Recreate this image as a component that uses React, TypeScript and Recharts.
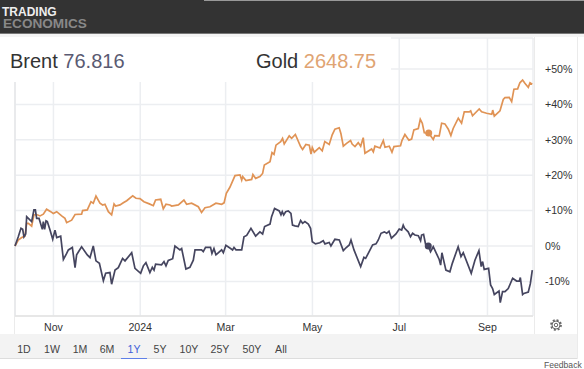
import { LineChart, Line, XAxis, YAxis, CartesianGrid, ReferenceLine, ReferenceDot } from "recharts";

// days since the start of the 1Y window, change in %
const brentDays = [
    0, 2.3, 4.2, 5.4, 6.3, 7.5, 8.2, 9.4, 11.7, 13.3, 14.3, 15.2, 16.9, 19.2, 19.9, 20.8, 21.8, 22.7, 24.6, 26.5,
    28.1, 29.3, 32.1, 34, 36.3, 37.5, 40.3, 42.2, 43.3, 46.8, 50.8, 52.7, 55, 56.9, 59.3, 62.1, 63.7, 66.7, 67.9, 70.3,
    72.6, 75.6, 77.3, 82, 84.3, 88.3, 90.2, 92, 94.8, 96.5, 97.7, 98.8, 103, 104.7, 106.1, 107.7, 110.8, 112.4, 115.9, 117.1,
    120.1, 122.9, 125.3, 126.5, 131.1, 132.3, 133.9, 137.4, 138.4, 139.8, 141.2, 145.2, 146.4, 148.2, 151.5, 152.9, 153.9, 155.3, 159.3, 160.9,
    162.8, 165.8, 169.1, 172.1, 174, 175.4, 179.2, 180.3, 182.4, 185.7, 186.9, 187.8, 188.8, 190.2, 192, 193.9, 195, 196.7, 199, 200.7,
    202.1, 203.7, 206.1, 207.7, 208.9, 211.2, 214.2, 216.6, 217.8, 220.8, 222, 224.8, 227.9, 230.7, 232.6, 234.9, 236.1, 238.2, 242.9, 245.2,
    246.4, 249.5, 251.3, 253.7, 255.3, 257.2, 259.5, 261.2, 262.8, 264.5, 267.7, 270, 271.7, 272.8, 273.8, 276.3, 277.9, 279.4, 281, 283.4,
    285, 285.7, 287.1, 288.5, 290.4, 292, 293.9, 298.1, 299.1, 300, 302.8, 305.6, 307.3, 311.4, 313.4, 315, 320.6, 323.2, 326, 327.6,
    328.6, 329.7, 332.8, 334.2, 335.6, 336.8, 340.1, 341, 342.6, 344.3, 346.6, 349.7, 352.5, 354.4, 355.1, 356.7, 357.6, 360.7, 362.1, 363.5,
];
const brentPct = [
    0, 2.6, 5, 4.7, 2.6, 3.4, 8.3, 7.8, 6.9, 10.2, 10.2, 7.8, 7.8, 4.7, 6.9, 4.7, 7.1, 6.9, 4.5, 1.9,
    4.5, 2.4, 2.8, -3.8, -2.1, -1.1, -0.4, -6.1, -2.5, -0.2, -2.5, -3.3, 0, -4.2, -4.9, -9.8, -7.7, -7.5, -10.8, -6.8,
    -6.1, -3.5, -4.2, -1.9, -6.3, -7.7, -5.6, -4.7, -7.5, -6, -6.8, -5.1, -5.3, -4.4, -5.6, -4.1, -3.6, 0, -1.1, -0.7,
    -6.5, -6, -4, -1.1, -1.1, -1.6, -0.4, -0.4, -2.1, -0.7, -2.5, -1.1, -1.9, 0.2, -0.7, -1.1, -0.4, -1.1, -1.1, 2.6,
    3, 5, 2.8, 4, 3.4, 5.5, 6.2, 8.3, 10.6, 9.9, 8.8, 9.7, 8.8, 9.7, 9.9, 9.2, 5.9, 5.7, 5.5, 7.2,
    6.4, 6.9, 6.2, 5, 1.2, 0.6, 0.9, 1.5, 0.6, 1, 0, 1.9, 1.7, -1.3, -0.5, 0.3, 1.7, -1.1, -5.8, -3.2,
    -3.5, -1.1, 0.3, 0.6, 1.7, 3.6, 4, 3.6, 4.2, 2.2, 3.4, 4.8, 4.5, 5.9, 5, 4, 2.6, 3.6, 3.1, 2.9,
    1.5, 3.1, 3.3, 0.5, 0, -1.6, -0.2, -3.8, -5.4, -1.9, -6.8, -7.3, -4.9, -0.2, -3, -1.9, -7.7, -4, -1.3, -5.8,
    -4.4, -6.6, -6.3, -11, -12, -13.7, -12.7, -16, -12.9, -12.9, -12, -9.1, -9.9, -9.9, -8.9, -13.7, -13.4, -13, -10.7, -6.8,
];
const goldDays = [
    0, 2.3, 4.7, 7, 8.2, 9.4, 11.7, 13.3, 15.2, 17.6, 19.9, 22.2, 25.1, 26.9, 29.3, 32.8, 35.1, 36.3, 39.8, 42.2,
    46.8, 47.5, 50.8, 53.4, 55, 56.9, 59.7, 61.6, 63.2, 65.6, 67.9, 69.6, 70.7, 73.8, 76.1, 78.5, 82.7, 85, 87.8, 90.6,
    94.4, 97.2, 98.8, 102.4, 104.2, 106.1, 108.9, 110.1, 114.8, 118.7, 120.6, 124.1, 128.8, 131.1, 133.5, 137, 141.2, 145.2, 146.9, 148.5,
    151, 154.6, 158.1, 159.3, 160, 162.3, 166.3, 167.2, 169.1, 172.1, 174, 175.2, 179.2, 180.6, 182, 183.4, 186.7, 188, 189.2, 192.7,
    194.4, 197, 200.7, 202.1, 204.4, 206.8, 208, 208.9, 210.3, 213.8, 215.9, 217.7, 220.8, 222.9, 224.8, 227.8, 229, 230.7, 233, 235.8,
    236.9, 238.9, 241.2, 242.9, 244.7, 245.9, 250.6, 251.8, 252.9, 256.5, 258.8, 260, 263, 264.9, 266.3, 270.9, 271.9, 274, 276.8, 278.7,
    280.3, 283.4, 284.8, 286.2, 287.6, 290.7, 293.9, 295, 298.1, 299.8, 302.1, 304.5, 306.3, 307.9, 311.5, 313.8, 315.7, 319.2, 320.2, 321.5,
    326.2, 327.9, 331.4, 335, 335.7, 336.8, 340.8, 343.1, 344.3, 347.3, 349, 350.6, 353.2, 354.8, 356.7, 358.3, 360.7, 361.9, 363.5,
];
const goldPct = [
    0, 1.7, 2.4, 2.8, 6.4, 6.4, 5.6, 8.8, 8.9, 8.5, 9, 10.4, 9.7, 9.2, 9.7, 8.5, 7.8, 6.6, 7.3, 8.9,
    9, 10, 10.2, 12.5, 12.1, 14.1, 12.1, 11.6, 11.8, 9.7, 8.8, 11.9, 11.3, 11.6, 12.2, 12.8, 14.2, 13.5, 13.4, 12.5,
    11.9, 11.4, 13, 13.2, 10.5, 11.8, 11.6, 11.3, 11.6, 13, 11.8, 12.1, 11.1, 9.5, 10.8, 11.1, 12.1, 11.8, 12.2, 14.9,
    16.6, 19.9, 20.1, 18.6, 19.6, 18.5, 18.8, 20.2, 19.1, 19.6, 20.5, 22.9, 23.8, 26.4, 25.9, 28.5, 29.5, 30.4, 28.8, 31.1,
    30.4, 31.5, 28.1, 27.3, 28.7, 28.5, 26, 27.8, 26.5, 27.8, 26.9, 29.5, 28.7, 31.4, 33, 33.4, 31.8, 28.2, 29, 29.8,
    28.8, 28.1, 29.2, 28.2, 30.6, 26.2, 27.4, 26.6, 28.2, 27.7, 29.8, 27.9, 28.2, 26.5, 28.1, 28.3, 29.8, 31.5, 29.9, 30.2,
    32.8, 33.2, 35.8, 34.7, 32, 31.9, 30.1, 31.2, 31.1, 34.7, 34.5, 33, 31.2, 33.2, 36.1, 34.7, 37.9, 37.9, 38.2, 36.8,
    38.7, 37.9, 37.5, 37.2, 38.4, 36.7, 38.2, 41.4, 41.9, 42, 40.8, 44.3, 44.4, 46.1, 46.9, 46, 44.8, 46.1, 45.7,
];

const xTicks = [27, 88, 148, 209, 270, 332];
const xLabels = ["Nov", "2024", "Mar", "May", "Jul", "Sep"];
const yTicks = [-10, 0, 10, 20, 30, 40, 50];
const ranges = ["1D", "1W", "1M", "6M", "1Y", "5Y", "10Y", "25Y", "50Y", "All"];
const rangeCenters = [24, 52, 80, 107, 134, 160, 189, 220, 252, 281];

const brentData = brentDays.map((day, i) => ({ day, pct: brentPct[i] }));
const goldData = goldDays.map((day, i) => ({ day, pct: goldPct[i] }));

const FONT = "'Liberation Sans', Arial, sans-serif";
const BRENT = "#45455f";
const GOLD = "#e09355";

const abs = (left: number, top: number, width: number, height: number, extra = {}) => ({
    position: "absolute" as const, left, top, width, height, ...extra,
});

function yLabel(v: number) {
    return v > 0 ? `+${v}%` : `${v}%`;
}

export default function App() {
    return (
        <div style={abs(0, 0, 584, 369, { background: "#fff", fontFamily: FONT, overflow: "hidden" })}>
            {/* header */}
            <div style={abs(0, 0, 584, 33, { background: "#333" })} />
            <div style={abs(204, 0, 380, 1, { background: "#999" })} />
            <div style={abs(0, 33, 584, 1, { background: "#777" })} />
            <div style={abs(0, 34, 584, 3, { background: "#f4f4f4" })} />
            <div style={{ position: "absolute", left: 2, top: 7, color: "#eee", fontWeight: "bold", fontSize: 12, lineHeight: "11px" }}>TRADING</div>
            <div style={{ position: "absolute", left: 3, top: 18, color: "#888", fontWeight: "bold", fontSize: 13.6, lineHeight: "11px" }}>ECONOMICS</div>

            {/* bottom bar, drawn under the chart */}
            <div style={abs(0, 334, 577, 25, { background: "#f3f3f3", borderBottom: "1px solid #ddd", boxSizing: "border-box" })} />
            <div style={abs(577, 37, 1, 322, { background: "#ebebeb" })} />
            <div style={abs(534, 37, 1, 297, { background: "#ebebeb" })} />
            <div style={abs(14, 316, 1, 18, { background: "#ebebeb" })} />

            <div style={{ position: "absolute", left: 0, top: 0 }}>
                <LineChart width={584} height={369} margin={{ top: 38, right: 0, bottom: 0, left: 15 }}>
                    <CartesianGrid stroke="#eceef1" strokeWidth={1.5} />
                    <XAxis
                        dataKey="day"
                        type="number"
                        domain={[0, 364]}
                        ticks={xTicks}
                        interval={0}
                        height={53}
                        allowDuplicatedCategory={false}
                        tickLine={false}
                        tickMargin={1}
                        axisLine={{ stroke: "#e3e3e3", strokeWidth: 1.5 }}
                        tick={{ fill: "#333", fontSize: 10.6, fontFamily: FONT }}
                        tickFormatter={(v: number) => xLabels[xTicks.indexOf(v)]}
                    />
                    <YAxis
                        dataKey="pct"
                        orientation="right"
                        width={51}
                        domain={[-19.77, 58.76]}
                        ticks={yTicks}
                        interval={0}
                        tickLine={false}
                        axisLine={false}
                        tickMargin={6}
                        tick={{ fill: "#333", fontSize: 10.6, fontFamily: FONT, textAnchor: "start" }}
                        tickFormatter={yLabel}
                    />
                    <ReferenceLine x={0} stroke="#e6e7ea" strokeWidth={1.5} />
                    <Line data={goldData} dataKey="pct" name="Gold" stroke={GOLD} strokeWidth={1.7} dot={false} isAnimationActive={false} />
                    <Line data={brentData} dataKey="pct" name="Brent" stroke={BRENT} strokeWidth={1.7} dot={false} isAnimationActive={false} />
                    <ReferenceDot x={290.7} y={31.9} r={3.5} fill={GOLD} stroke="none" />
                    <ReferenceDot x={290.4} y={0} r={3.5} fill={BRENT} stroke="none" />
                </LineChart>
            </div>

            {/* legend box sits on top of the grid */}
            <div style={abs(8, 37, 383, 45, { background: "#fff" })} />
            <div style={{ position: "absolute", left: 10, top: 50, fontSize: 20, lineHeight: "23px", color: "#333", whiteSpace: "pre" }}>
                Brent <span style={{ color: "#5a5a72" }}>76.816</span>
            </div>
            <div style={{ position: "absolute", left: 256, top: 50, fontSize: 20, lineHeight: "23px", color: "#333", whiteSpace: "pre" }}>
                Gold <span style={{ color: "#e0a473" }}>2648.75</span>
            </div>

            {/* gear */}
            <svg style={abs(550, 319, 12, 12)} viewBox="0 0 24 24" fill="none" stroke="#666">
                <circle cx="12" cy="12" r="3.5" strokeWidth={2} />
                <circle cx="12" cy="12" r="8" strokeWidth={2} />
                <circle cx="12" cy="12" r="10" strokeWidth={3.5} strokeDasharray="4 3.85" />
            </svg>

            {/* range buttons */}
            {ranges.map((r, i) => (
                <div
                    key={r}
                    style={{
                        position: "absolute",
                        left: rangeCenters[i] - 20,
                        width: 40,
                        top: 342,
                        textAlign: "center",
                        fontSize: 10.6,
                        lineHeight: "14px",
                        color: r === "1Y" ? "#3f5fd8" : "#444",
                    }}
                >
                    {r}
                </div>
            ))}
            <div style={abs(121, 358, 26, 1, { background: "#5f80e8" })} />
            <div style={{ position: "absolute", left: 544, top: 360, fontSize: 8.6, lineHeight: "11px", color: "#555" }}>Feedback</div>
        </div>
    );
}
